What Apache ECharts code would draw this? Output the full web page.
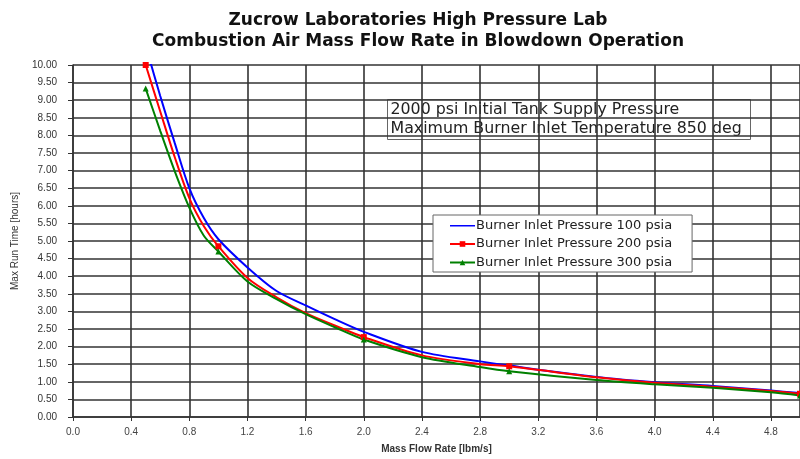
<!DOCTYPE html>
<html>
<head>
<meta charset="utf-8">
<script src="https://cdn.jsdelivr.net/npm/echarts@6/dist/echarts.min.js"></script>
<style>
    html, body { margin: 0; padding: 0; background: #fff; }
    #chart { width: 800px; height: 459px; }
</style>
</head>
<body>
<div id="chart"></div>
<script>
// mass flow rate [lbm/s] where the curves were read
const flows = [0.5, 0.6, 0.7, 0.8, 0.9, 1.0, 1.2, 1.4, 1.6, 1.8, 2.0, 2.4, 2.8, 3.0, 3.6, 4.0, 4.4, 4.8, 5.0]
// max run time [hours] for each burner inlet pressure
const run100 = [10.55, 9.12, 7.78, 6.5, 5.65, 5.05, 4.25, 3.58, 3.17, 2.78, 2.42, 1.85, 1.58, 1.46, 1.14, 0.99, 0.88, 0.75, 0.68]
const run200 = [10.0, 8.68, 7.38, 6.22, 5.42, 4.85, 3.95, 3.4, 2.95, 2.6, 2.27, 1.75, 1.5, 1.44, 1.13, 0.97, 0.86, 0.74, 0.66]
const run300 = [9.33, 8.13, 6.98, 5.95, 5.15, 4.7, 3.85, 3.35, 2.92, 2.55, 2.2, 1.7, 1.42, 1.3, 1.05, 0.93, 0.83, 0.7, 0.61]
// flows that carry a visible marker
const markerFlows = [0.5, 1.0, 2.0, 3.0, 5.0]

const seriesNames = ['Burner Inlet Pressure 100 psia', 'Burner Inlet Pressure 200 psia', 'Burner Inlet Pressure 300 psia']
const titleLines = ['Zucrow Laboratories High Pressure Lab', 'Combustion Air Mass Flow Rate in Blowdown Operation']
const noteLines = ['2000 psi Initial Tank Supply Pressure', 'Maximum Burner Inlet Temperature 850 deg']

const font = 'Liberation Sans, Arial, sans-serif'
const wideFont = 'DejaVu Sans, Verdana, sans-serif'
// plain line for the legend entry without markers (corner specks keep the box 25x7)
const lineIcon = 'path://M0,3L25,3L25,4.6L0,4.6Z M0,0L0.01,0L0.01,0.01Z M25,7L24.99,7L24.99,6.99Z'

function points(values, withMarkers) {
    return flows.map((f, i) => ({
        value: [f, values[i]],
        symbolSize: withMarkers && markerFlows.includes(f) ? 6 : 0
    }))
}

let chart = echarts.init(document.getElementById('chart'))

let option = {
    animation: false,
    textStyle: { fontFamily: font },
    title: {
        text: titleLines.join('\n'),
        left: 413,
        top: 5,
        textAlign: 'center',
        textStyle: { fontSize: 17, fontWeight: 'bold', color: '#111', lineHeight: 21, fontFamily: wideFont }
    },
    grid: { left: 73, right: 0, top: 65, bottom: 39 },
    legend: {
        orient: 'vertical',
        left: 433,
        top: 215,
        itemWidth: 25,
        itemHeight: 7,
        itemGap: 5.5,
        padding: [4, 20, 3, 16],
        backgroundColor: '#fff',
        borderColor: '#666',
        borderWidth: 1,
        textStyle: { fontSize: 13, color: '#222', fontFamily: wideFont, padding: [0, 0, 0, -4] },
        data: [
            { name: seriesNames[0], icon: lineIcon },
            { name: seriesNames[1] },
            { name: seriesNames[2] }
        ]
    },
    xAxis: {
        type: 'value',
        min: 0,
        max: 5,
        interval: 0.4,
        name: 'Mass Flow Rate [lbm/s]',
        nameLocation: 'middle',
        nameGap: 27,
        nameTextStyle: { fontSize: 10, color: '#333', fontWeight: 'bold' },
        axisLine: { lineStyle: { color: '#333', width: 1.5 } },
        axisTick: { show: true, length: 4, lineStyle: { color: '#333' } },
        axisLabel: {
            fontSize: 10, color: '#444', margin: 10, showMaxLabel: false,
            formatter: v => v.toFixed(1)
        },
        splitLine: { show: true, lineStyle: { color: '#333', width: 1.6 } }
    },
    yAxis: {
        type: 'value',
        min: 0,
        max: 10,
        interval: 0.5,
        name: 'Max Run Time [hours]',
        nameLocation: 'middle',
        nameGap: 53,
        nameTextStyle: { fontSize: 10, color: '#333' },
        axisLine: { show: true, lineStyle: { color: '#333', width: 1.5 } },
        axisTick: { show: true, length: 5, lineStyle: { color: '#333' } },
        axisLabel: { fontSize: 10, color: '#333', margin: 16, formatter: v => v.toFixed(2) },
        splitLine: { show: true, lineStyle: { color: '#333', width: 1.6 } }
    },
    series: [
        {
            name: seriesNames[0],
            type: 'line',
            smooth: 0.3,
            symbol: 'none',
            color: '#0000ff',
            lineStyle: { width: 2 },
            data: points(run100, false)
        },
        {
            name: seriesNames[1],
            type: 'line',
            smooth: 0.3,
            symbol: 'rect',
            showAllSymbol: true,
            color: '#ff0000',
            lineStyle: { width: 2 },
            data: points(run200, true)
        },
        {
            name: seriesNames[2],
            type: 'line',
            smooth: 0.3,
            symbol: 'triangle',
            showAllSymbol: true,
            color: '#008000',
            lineStyle: { width: 2 },
            data: points(run300, true)
        }
    ],
    graphic: [
        {
            type: 'group',
            left: 387,
            top: 99,
            z: 10,
            children: [
                {
                    type: 'rect',
                    shape: { x: 0, y: 0, width: 363, height: 40 },
                    style: { fill: '#fff', stroke: '#666', lineWidth: 1 }
                },
                {
                    type: 'text',
                    x: 3,
                    y: 1,
                    style: {
                        text: noteLines.join('\n'),
                        font: '15.8px ' + wideFont,
                        lineHeight: 19,
                        fill: '#222'
                    }
                }
            ]
        }
    ]
}

chart.setOption(option)
</script>
</body>
</html>
